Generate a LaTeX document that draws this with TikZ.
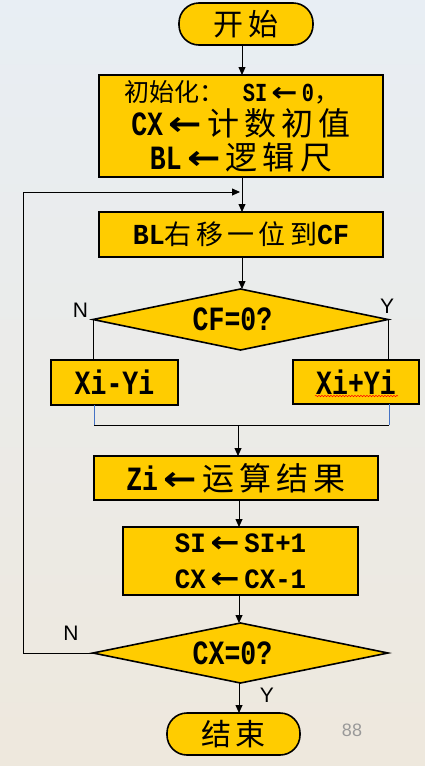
\documentclass[tikz,border=0pt]{standalone}
\usepackage{fontspec}
\usepackage{graphicx}
\setmainfont{Liberation Sans}
\newfontfamily\cjkf{Noto Sans CJK SC}
\newfontfamily\cjksf{Noto Sans CJK SC}[LetterSpace=16]
\newfontfamily\latf{Liberation Mono Bold}[FakeStretch=0.78]
\newfontfamily\latwf{Liberation Mono Bold}[FakeStretch=0.92]
\newfontfamily\arrf{DejaVu Sans Bold}
\usetikzlibrary{shapes.geometric,arrows.meta,decorations.pathmorphing}
\definecolor{gold}{HTML}{FFCC00}
\definecolor{bl}{HTML}{4472C4}
\definecolor{bgtop}{HTML}{E8EEF4}
\definecolor{bgbot}{HTML}{EEE8DD}
\newcommand\Cj[1]{{\cjkf #1}}
\newcommand\Cs[1]{{\cjksf #1}}
\newcommand\La[1]{{\latf #1}}
\newcommand\Lw[1]{{\latwf #1}}
\newcommand\Ar{\,{\arrf\scalebox{1.25}[1.05]{←}}\,}
\newcommand\fsz[2]{\fontsize{#1}{#2}\selectfont}
\begin{document}
\begin{tikzpicture}[x=1pt,y=-1pt,
  box/.style={draw=black,line width=1.6pt,fill=gold,inner sep=0pt,outer sep=0pt},
  term/.style={box,rounded corners=20pt},
  dia/.style={box,diamond,aspect=4.8},
  arr/.style={line width=0.8pt,-{Triangle[length=8pt,width=7pt]}},
  ln/.style={line width=0.8pt},
  bln/.style={line width=0.8pt,draw=bl},
  lab/.style={font=\fsz{21}{21},inner sep=0pt}]
\shade[top color=bgtop,bottom color=bgbot] (0,0) rectangle (425,766);
\useasboundingbox (0,0) rectangle (425,766);

% nodes
\node[term,minimum width=134pt,minimum height=42pt] (start) at (246,24)
  {\Cs{\fsz{30}{30}开始}};
\node[box,minimum width=284pt,minimum height=102pt,align=center,font=\fsz{32}{34}] (init) at (241,126)
  {{\fsz{25}{34}\Cj{初始化：}\hspace{18pt}\La{\fsz{26}{34}SI}\Ar\La{\fsz{26}{34}0}\Cj{，}\kern18pt}\\
   \La{\fsz{34}{34}CX}\Ar\Cs{计数初值}\\
   \La{\fsz{34}{34}BL}\Ar\Cs{逻辑尺}};
\node[box,minimum width=284pt,minimum height=45pt] (shift) at (241,234.5)
  {\fsz{27}{27}\Lw{\fsz{29}{29}BL}\Cs{右移一位到}\Lw{\fsz{29}{29}CF}};
\node[dia,minimum width=295pt,minimum height=61pt] (cf) at (240.5,319.5)
  {\fsz{34}{34}\La{CF=0?}\kern16pt};
\node[box,minimum width=127pt,minimum height=45pt] (xm) at (114.5,382.5)
  {\fsz{34}{34}\La{Xi-Yi}};
\node[box,minimum width=126pt,minimum height=44pt] (xp) at (356,382)
  {\fsz{34}{34}\La{Xi+Yi}};
\node[box,minimum width=284pt,minimum height=44pt] (zi) at (236,478)
  {\fsz{32}{32}\La{\fsz{34}{34}Zi}\Ar\Cs{运算结果}};
\node[box,minimum width=235pt,minimum height=68pt,align=center,font=\fsz{28}{36}] (si) at (240.5,561)
  {\Lw{SI}\Ar\Lw{SI+1}\\ \Lw{CX}\Ar\Lw{CX-1}};
\node[dia,minimum width=295pt,minimum height=60pt] (cx) at (240.5,653)
  {\fsz{34}{34}\La{CX=0?}\kern16pt};
\node[term,minimum width=133pt,minimum height=42pt] (stop) at (233.5,734)
  {\Cs{\fsz{30}{30}结束}};

% labels
\node[lab] (n1) at (80.5,310) {N};
\node[lab] (y1) at (387,306) {Y};
\node[lab] (n2) at (71,633) {N};
\node[lab] (y2) at (267,695) {Y};
\node[font=\fsz{18}{18},text=black!40,inner sep=0pt] (pg) at (352,730) {88};

% helper coordinates
\coordinate (xA) at (242,0);
\coordinate (xB) at (239,0);
\coordinate (loopL) at (23,192);
\coordinate (loopin) at (240,192);
\coordinate (mL) at (94,425);
\coordinate (mR) at (389,425);
\coordinate (mC) at (238,425);

% connectors
\draw[arr] (start.south -| xA) -- (init.north -| xA);
\draw[arr] (init.south -| xA) -- (shift.north -| xA);
\draw[arr] (shift.south -| xA) -- (cf.north -| xA);
\draw[ln] (cf.west) -- (cf.west |- xm.north);
\draw[ln] (cf.east) -- (cf.east |- xp.north);
\draw[bln] (xm.south -| mL) -- (mL);
\draw[bln] (xp.south -| mR) -- (mR);
\draw[ln] (mL) -- (mR);
\draw[arr] (mC) -- (zi.north -| mC);
\draw[arr] (zi.south -| xB) -- (si.north -| xB);
\draw[arr] (si.south -| xB) -- (cx.north -| xB);
\draw[arr] (cx.south -| xB) -- (stop.north -| xB);
\draw[ln] (cx.west) -- (cx.west -| loopL) -- (loopL);
\draw[arr] (loopL) -- (loopin);

% spell-check squiggle under Xi+Yi
\draw[red,line width=0.5pt,decorate,decoration={snake,amplitude=0.7pt,segment length=3pt}]
  (315,396) -- (398,396);
\end{tikzpicture}
\end{document}
